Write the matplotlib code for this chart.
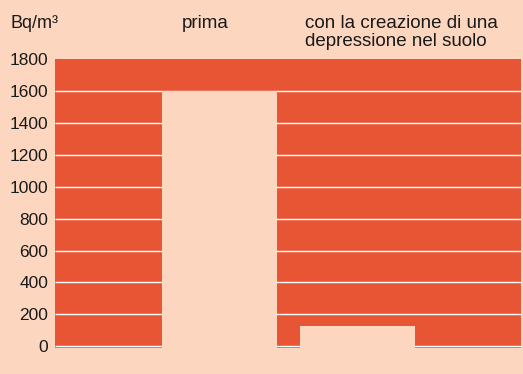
import numpy as np
import matplotlib.pyplot as plt
from matplotlib.transforms import blended_transform_factory

# radon concentration, Bq/m3
labels = ["prima", "con la creazione di una\ndepressione nel suolo"]
values = [1600, 130]
yticks = [0, 200, 400, 600, 800, 1000, 1200, 1400, 1600, 1800]
unit = "Bq/m³"

orange = "#e85535"
peach = "#fcd6be"
ink = "#1a1a1a"

plt.rcParams['font.family'] = ['Liberation Sans', 'DejaVu Sans']

W, H = 523, 374
fig = plt.figure(figsize=(W / 100, H / 100), dpi=100, facecolor=peach)
left, right, top, bottom = 55, 521, 59, 347.7
ax = fig.add_axes([left / W, (H - bottom) / H, (right - left) / W, (bottom - top) / H])
ax.set_facecolor(orange)

ymin = -9
ax.set_ylim(ymin, 1800)
ax.set_xlim(-1.43, 2.62)

# gridlines under the bars
ax.hlines(yticks[:-1], -1.43, 2.62, color="white", lw=1.0, zorder=1)

x = np.array([0, 1.2])
ax.bar(x, np.array(values) - ymin, bottom=ymin, width=1.0,
       color=peach, zorder=2, linewidth=0)

ax.set_yticks(yticks)
ax.set_yticklabels([str(t) for t in yticks])
ax.set_xticks([])
ax.tick_params(axis='y', length=0, pad=5, labelsize=12.5, colors=ink)
for s in ax.spines.values():
    s.set_visible(False)

# column headings above the plot
tr = blended_transform_factory(ax.transData, fig.transFigure)
fig.text(10 / W, 1 - 23 / H, unit, fontsize=13, color=ink, va="center", ha="left")
ax.text(-0.12, 1 - 23 / H, labels[0], transform=tr, fontsize=13.5,
        color=ink, va="center", ha="center")
ax.text(0.745, 1 - 32.5 / H, labels[1], transform=tr, fontsize=13.5,
        color=ink, va="center", ha="left", linespacing=1.12)

fig.savefig("out.png", dpi=100, facecolor=peach)
